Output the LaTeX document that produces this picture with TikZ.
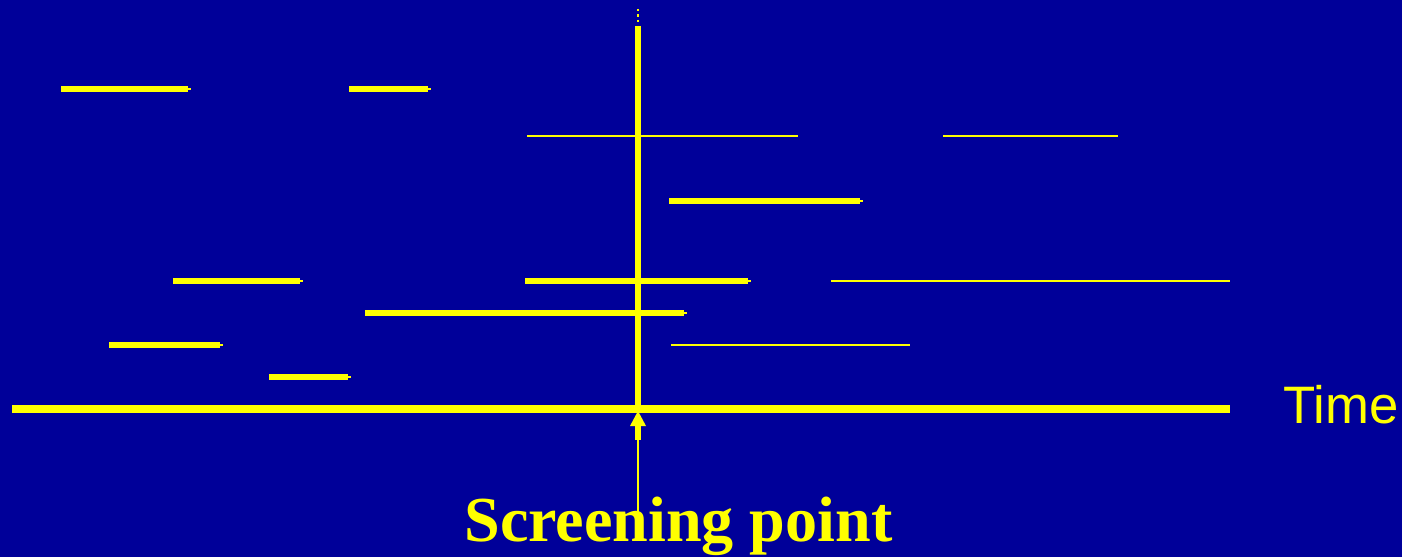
\documentclass[tikz,border=0pt]{standalone}
\usepackage{fontspec}
\setmainfont{Liberation Serif}
\newfontfamily\timefont{Liberation Sans}
\definecolor{SlideBlue}{RGB}{0,0,153}
\definecolor{SlideYellow}{RGB}{255,255,0}

\begin{document}
\begin{tikzpicture}[x=0.02cm,y=-0.02cm,
    thickseg/.style={draw=SlideYellow,line width=3pt},
    thinseg/.style={draw=SlideYellow,line width=1.1pt},
    stub/.style={draw=SlideYellow,line width=1.2pt}]
\fill[SlideBlue] (0,0) rectangle (1402,557);
\useasboundingbox (0,0) rectangle (1402,557);

% thick episodes (with the little stub at the end)
\foreach \a/\b/\y in {61/188/89,349/428/89,669/860/201,173/300/281,
    525/748/281,365/684/313,109/220/345,269/348/377}{
    \draw[thickseg] (\a,\y) -- (\b,\y);
    \draw[stub] (\b,\y) -- (\b+3,\y);
}

% thin episodes
\foreach \a/\b/\y in {527/798/136,943/1118/136,831/1230/281,671/910/345}{
    \draw[thinseg] (\a,\y) -- (\b,\y);
}

% time axis and screening line
\draw[SlideYellow,line width=4pt] (12,409) -- (1230,409);
\draw[SlideYellow,line width=3.4pt] (638,26) -- (638,409);
\draw[SlideYellow,line width=1.3pt,dash pattern=on 1.3pt off 1.8pt] (638,9) -- (638,25);
\coordinate (screen) at (638,411);

\node[text=SlideYellow,anchor=west,inner sep=0pt,
    font=\timefont\fontsize{30}{34}\selectfont]
    (time) at (1283,405) {Time};
\node[text=SlideYellow,anchor=base,inner sep=0pt,
    font=\bfseries\fontsize{36.5}{40}\selectfont]
    (label) at (678.5,541) {Screening point};

% arrow to the screening point
\coordinate (shaft) at (638,440);
\draw[SlideYellow,line width=1.1pt] (638,513) -- (shaft);
\fill[SlideYellow] (shaft) ++(-3,0) rectangle (641,424);
\fill[SlideYellow] (screen) -- (646,426) -- (630,426) -- cycle;
\end{tikzpicture}
\end{document}
